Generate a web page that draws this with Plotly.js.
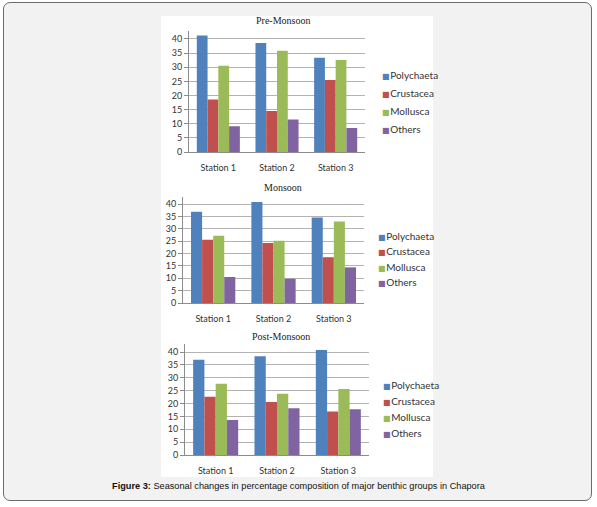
<!DOCTYPE html>
<html>
<head>
<meta charset="utf-8">
<script src="https://cdn.plot.ly/plotly-3.0.1.min.js"></script>
<style>
  html, body { margin: 0; padding: 0; background: #fff; }
  #page { position: relative; width: 597px; height: 507px; overflow: hidden; }
  #frame { position: absolute; left: 3px; top: 2px; width: 587px; height: 497px;
           border: 1px solid #6b6b6b; border-radius: 7px; background: #f2f2f2; }
  #panel { position: absolute; left: 161px; top: 16px; width: 272px; height: 461px; background: #fff; }
  #myChart { position: absolute; left: 0; top: 0; width: 597px; height: 507px; }
  #caption { position: absolute; left: 0; top: 481px; width: 597px; text-align: center;
             font-family: "Liberation Sans", Arial, sans-serif; font-size: 9.2px; color: #111; }
</style>
</head>
<body>
<div id="page">
  <div id="frame"></div>
  <div id="panel"></div>
  <div id="myChart"></div>
  <div id="caption"><b>Figure 3:</b> Seasonal changes in percentage composition of major benthic groups in Chapora</div>
</div>
<script>
// Chart data
const stations = ['Station 1', 'Station 2', 'Station 3'];
const groups = ['Polychaeta', 'Crustacea', 'Mollusca', 'Others'];
const colors = ['#4F81BD', '#C0504D', '#9BBB59', '#8064A2'];
const seasons = ['Pre-Monsoon', 'Monsoon', 'Post-Monsoon'];

// values per group, one entry per station
const preMonsoon = {
    Polychaeta: [41.2, 38.6, 33.4],
    Crustacea: [18.6, 14.5, 25.5],
    Mollusca: [30.5, 35.8, 32.6],
    Others: [9.1, 11.5, 8.5]
};
const monsoon = {
    Polychaeta: [36.9, 40.8, 34.6],
    Crustacea: [25.6, 24.2, 18.5],
    Mollusca: [27.2, 25.2, 32.9],
    Others: [10.5, 9.8, 14.4]
};
const postMonsoon = {
    Polychaeta: [37.0, 38.4, 40.8],
    Crustacea: [22.6, 20.6, 16.9],
    Mollusca: [27.7, 23.8, 25.6],
    Others: [13.6, 18.2, 17.8]
};
const seasonData = [preMonsoon, monsoon, postMonsoon];
const yTicks = [0, 5, 10, 15, 20, 25, 30, 35, 40];

const W = 597, H = 507;
// page pixel boxes of each plot area: [left, right, top, bottom]
const boxes = [
    [189, 365, 30.5, 152],
    [183, 364, 196.6, 303],
    [185, 369, 344.3, 455]
];
const titlePos = [[283, 21], [283, 187], [281, 336]];
const legendPos = [
    [380, [75, 93, 111, 129]],
    [376, [236, 251, 267, 282]],
    [381, [385, 401, 417, 433]]
];

const tickFont = { family: 'Lato, "Liberation Sans", sans-serif', size: 9, color: '#333' };

const traces = [];
seasonData.forEach((d, s) => {
    const ax = s === 0 ? '' : String(s + 1);
    groups.forEach((g, i) => {
        traces.push({
            type: 'bar', x: stations, y: d[g], name: g,
            xaxis: 'x' + ax, yaxis: 'y' + ax,
            marker: { color: colors[i], line: { width: 0 } },
            showlegend: false, hoverinfo: 'skip'
        });
    });
});

const layout = {
    width: W, height: H,
    margin: { l: 0, r: 0, t: 0, b: 0 },
    paper_bgcolor: 'rgba(0,0,0,0)', plot_bgcolor: 'rgba(0,0,0,0)',
    barmode: 'group', bargap: 0.266, bargroupgap: 0,
    showlegend: false,
    annotations: [],
    font: tickFont
};

boxes.forEach((b, s) => {
    const ax = s === 0 ? '' : String(s + 1);
    layout['xaxis' + ax] = {
        domain: [b[0] / W, b[1] / W], anchor: 'y' + ax,
        showline: true, linecolor: '#8c8c8c', linewidth: 1,
        ticks: '', tickfont: tickFont, ticklabelstandoff: 7,
        showgrid: false, zeroline: false, fixedrange: true
    };
    layout['yaxis' + ax] = {
        domain: [(H - b[3]) / H, (H - b[2]) / H], anchor: 'x' + ax,
        range: [0, 43], tickvals: yTicks, ticktext: yTicks.map(String),
        showline: true, linecolor: '#8c8c8c', linewidth: 1,
        ticks: 'outside', ticklen: 4, tickcolor: '#8c8c8c',
        showgrid: true, gridcolor: '#b3b3b3', gridwidth: 1,
        zeroline: false, tickfont: tickFont, fixedrange: true
    };
    // subplot title
    layout.annotations.push({
        xref: 'paper', yref: 'paper', x: titlePos[s][0] / W, y: (H - titlePos[s][1]) / H,
        xanchor: 'center', yanchor: 'middle', showarrow: false,
        text: seasons[s],
        font: { family: '"Liberation Serif", "DejaVu Serif", serif', size: 10, color: '#222' }
    });
    // legend entries
    groups.forEach((g, i) => {
        layout.annotations.push({
            xref: 'paper', yref: 'paper',
            x: legendPos[s][0] / W, y: (H - legendPos[s][1][i]) / H,
            xanchor: 'left', yanchor: 'middle', showarrow: false,
            text: '<span style="color:' + colors[i] + ';font-size:8px">■</span>&#8202;' + g,
            font: { family: 'Lato, "DejaVu Sans", sans-serif', size: 10, color: '#333' }
        });
    });
});

Plotly.newPlot('myChart', traces, layout, { staticPlot: true });
</script>
</body>
</html>
